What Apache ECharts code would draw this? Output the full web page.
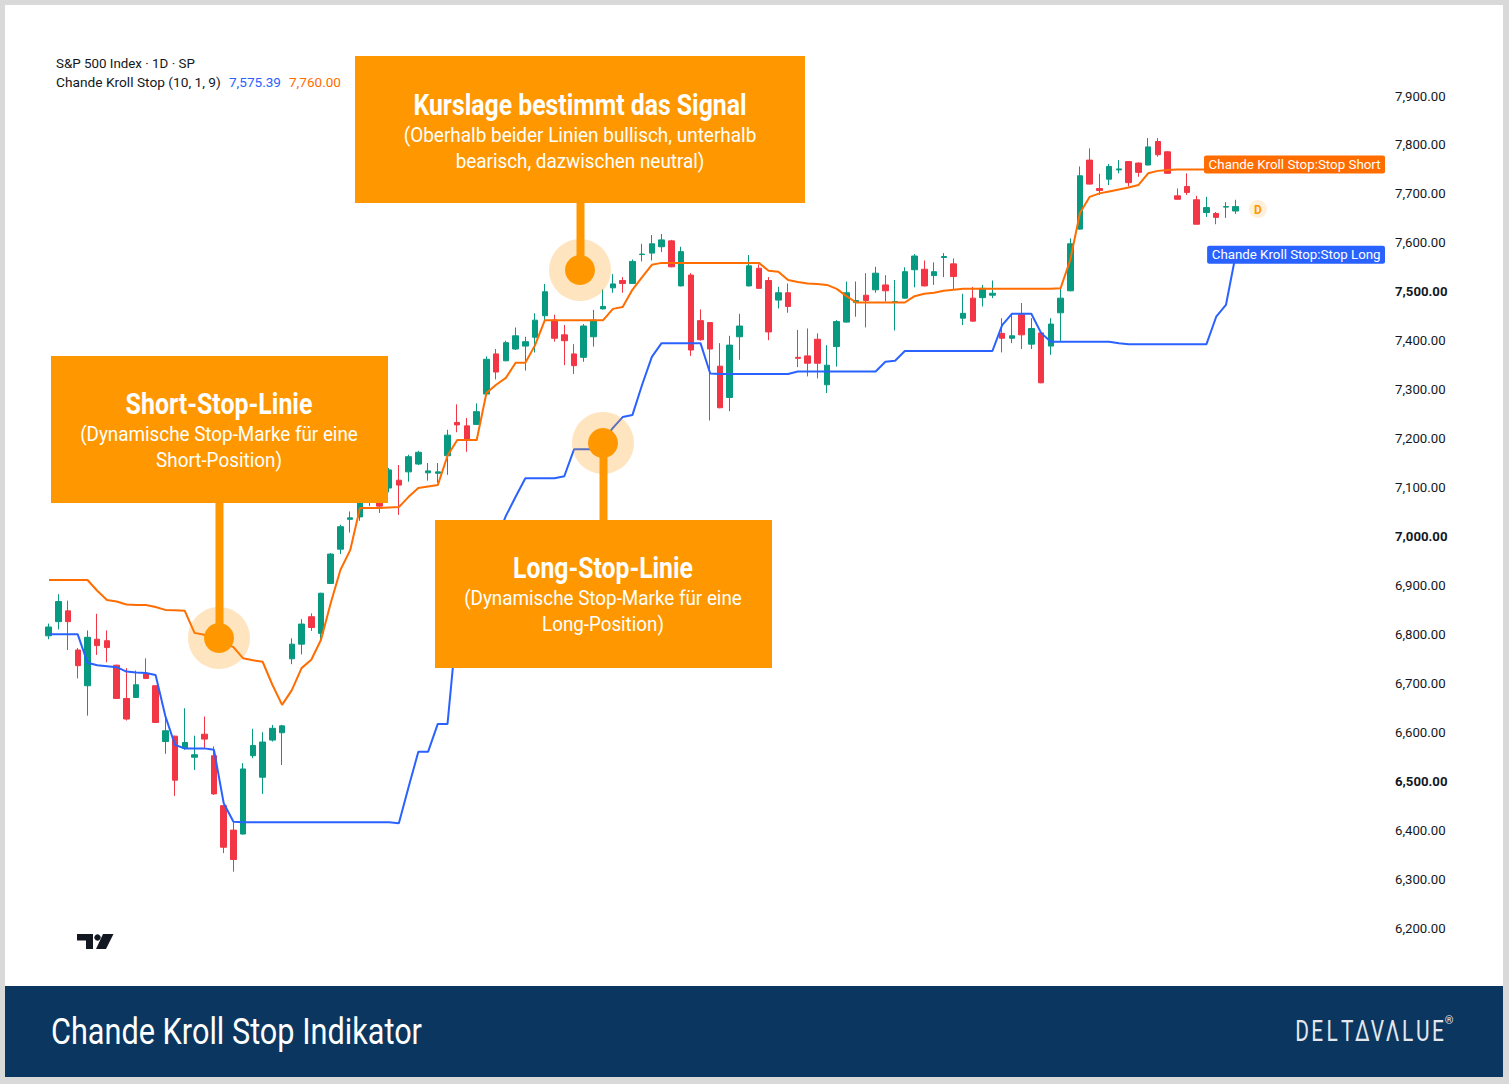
<!DOCTYPE html>
<html lang="de">
<head>
<meta charset="utf-8">
<title>Chande Kroll Stop Indikator</title>
<script src="https://cdn.jsdelivr.net/npm/echarts@6/dist/echarts.min.js"></script>
<style>
html,body{margin:0;padding:0;background:#d9d9d9;overflow:hidden;}
#chart{width:1509px;height:1084px;}
</style>
</head>
<body>
<div id="chart"></div>
<script>
// ---- daily bars (first bar is the partially visible one at the left edge) ----
const firstIndex = -1;
const open = [6797,6826,6848,6768,6695,6790,6787,6737,6669,6671,
6719,6695,6581,6592,6567,6549,6596,6552,6450,6400,
6392,6552,6508,6584,6599,6750,6780,6836,6802,6904,
6974,7035,7040,7070,7085,7099,7115,7132,7148,7130,
7129,7165,7233,7226,7229,7291,7373,7359,7383,7389,
7407,7451,7442,7412,7373,7366,7408,7465,7508,7523,
7517,7576,7579,7592,7604,7512,7534,7441,7437,7348,
7284,7408,7512,7548,7523,7483,7498,7366,7369,7403,
7310,7388,7438,7478,7493,7504,7514,7478,7487,7545,
7546,7533,7570,7557,7446,7487,7488,7493,7415,7405,
7453,7393,7416,7389,7457,7502,7628,7769,7711,7730,
7749,7766,7763,7759,7807,7786,7696,7715,7688,7662,
7660,7673,7665];
const close = [6815,6867,6826,6736,6794,6777,6773,6669,6627,6697,
6710,6620,6603,6502,6579,6554,6586,6474,6365,6340,
6525,6573,6580,6608,6613,6780,6821,6814,6884,6964,
7020,7038,7072,7090,7062,7136,7105,7163,7172,7134,
7132,7207,7228,7197,7255,7362,7336,7396,7410,7398,
7442,7500,7405,7400,7349,7430,7442,7470,7516,7517,
7562,7577,7598,7606,7551,7582,7381,7402,7383,7263,
7391,7430,7553,7507,7418,7498,7470,7364,7354,7354,
7350,7439,7498,7482,7482,7538,7502,7480,7541,7573,
7512,7541,7572,7531,7456,7440,7507,7497,7405,7410,
7412,7425,7314,7434,7487,7598,7737,7720,7707,7756,
7751,7723,7744,7796,7780,7742,7689,7703,7638,7672,
7652,7674,7674];
const low = [6790,6810,6768,6710,6634,6758,6743,6668,6624,6670,
6709,6619,6556,6470,6564,6523,6566,6472,6353,6315,
6391,6547,6474,6581,6533,6739,6759,6807,6789,6903,
6964,7008,7032,7062,7048,7090,7044,7112,7146,7114,
7110,7126,7213,7173,7228,7290,7321,7358,7381,7339,
7376,7442,7398,7350,7332,7357,7388,7464,7498,7498,
7516,7562,7564,7581,7550,7511,7369,7400,7237,7262,
7256,7361,7511,7506,7401,7466,7457,7346,7327,7323,
7293,7347,7437,7449,7427,7498,7480,7421,7486,7509,
7511,7514,7530,7504,7432,7439,7470,7487,7376,7395,
7383,7383,7313,7371,7398,7501,7627,7719,7698,7718,
7742,7715,7735,7758,7776,7741,7688,7698,7637,7653,
7638,7651,7659];
const high = [6822,6882,6869,6772,6808,6842,6808,6738,6731,6726,
6751,6696,6632,6593,6649,6593,6632,6571,6451,6416,
6537,6607,6600,6615,6615,6792,6831,6843,6885,6966,
7024,7051,7082,7100,7095,7140,7146,7167,7175,7150,
7150,7218,7270,7242,7272,7368,7383,7400,7427,7408,
7456,7516,7453,7432,7393,7434,7463,7505,7536,7530,
7566,7598,7616,7618,7606,7592,7538,7464,7438,7395,
7410,7455,7575,7556,7530,7510,7517,7422,7425,7415,
7391,7442,7521,7521,7538,7551,7534,7524,7550,7577,
7564,7560,7579,7568,7496,7510,7514,7523,7446,7456,
7477,7446,7417,7446,7507,7609,7756,7793,7741,7761,
7769,7767,7764,7814,7814,7787,7711,7742,7696,7694,
7663,7683,7688];
// ---- Chande Kroll Stop lines ----
const stopShort = [6911,6911,6911,6911,6911,6889,6870,6867,6861,6860,
6860,6856,6850,6849,6848,6803,6799,6791,6782,6774,
6751,6747,6744,6697,6656,6686,6731,6748,6789,6864,
6932,6972,7058,7058,7058,7059,7060,7081,7099,7102,
7105,7165,7197,7197,7197,7293,7310,7324,7355,7355,
7391,7442,7442,7442,7442,7442,7442,7442,7465,7469,
7504,7530,7555,7559,7559,7559,7559,7559,7559,7559,
7559,7559,7559,7559,7543,7541,7524,7520,7517,7516,
7514,7506,7491,7478,7478,7478,7478,7478,7478,7491,
7496,7498,7502,7504,7506,7506,7506,7506,7506,7506,
7506,7506,7506,7506,7507,7565,7661,7694,7701,7705,
7709,7713,7718,7742,7747,7749,7750,7750,7750,7750,
7750,7750,7752];
const stopLong = [6800,6800,6800,6800,6742,6737,6735,6733,6724,6722,
6721,6717,6633,6574,6567,6567,6567,6564,6455,6417,
6416,6416,6416,6416,6416,6416,6416,6416,6416,6416,
6416,6416,6416,6416,6416,6416,6414,6488,6560,6560,
6617,6617,6827,6870,6911,6952,6993,7042,7081,7119,
7119,7119,7119,7123,7178,7178,7178,7197,7222,7244,
7248,7310,7367,7395,7395,7395,7395,7395,7333,7332,
7332,7332,7332,7332,7332,7332,7332,7337,7337,7337,
7337,7337,7337,7337,7337,7337,7357,7359,7379,7379,
7379,7379,7379,7379,7379,7379,7379,7379,7432,7455,
7455,7455,7416,7398,7398,7398,7398,7398,7398,7398,
7395,7393,7393,7393,7393,7393,7393,7393,7393,7393,
7449,7473,7575];
// ---- axis & texts ----
const yMin = 6200, yMax = 7900, yStep = 100;
const legendTitle = 'S&P 500 Index · 1D · SP';
const indicatorName = 'Chande Kroll Stop (10, 1, 9)';
const lastLong = 7575.39, lastShort = 7760.00;
const tagShort = 'Chande Kroll Stop:Stop Short';
const tagLong = 'Chande Kroll Stop:Stop Long';
const footerTitle = 'Chande Kroll Stop Indikator';
const brandLetters = ['D','E','L','T','Δ','V','Λ','L','U','E'];

const UP = '#089981', DOWN = '#f23645', ORANGE = '#ff6d00', BLUE = '#2962ff', BOX = '#ff9800', INK = '#131722';

const chart = echarts.init(document.getElementById('chart'), null, {renderer: 'svg'});

const candleData = open.map((o, i) => [firstIndex + i, o, close[i], low[i], high[i]]);
const shortData = stopShort.map((v, i) => [firstIndex + i, v]);
const longData = stopLong.map((v, i) => [firstIndex + i, v]);

const fmt = v => v.toLocaleString('en-US', {minimumFractionDigits: 2, maximumFractionDigits: 2});

chart.setOption({
  animation: false,
  backgroundColor: '#d9d9d9',
  grid: {left: 50, right: 123, top: 96, bottom: 156, containLabel: false, outerBoundsMode: 'none'},
  xAxis: {type: 'value', min: -0.853, max: 136.45, show: false, splitLine: {show: false}},
  yAxis: {
    type: 'value', position: 'right', min: yMin, max: yMax, interval: yStep,
    axisLine: {show: false}, axisTick: {show: false}, splitLine: {show: false},
    axisLabel: {
      margin: 9, color: INK, fontFamily: 'Roboto', fontSize: 13.2,
      formatter: v => (v % 500 === 0 ? '{b|' + fmt(v) + '}' : fmt(v)),
      rich: {b: {fontWeight: 'bold', color: INK, fontFamily: 'Roboto', fontSize: 13.2}}
    }
  },
  series: [
    {
      type: 'candlestick', data: candleData, barWidth: 6, clip: true, z: 3,
      itemStyle: {color: UP, color0: DOWN, borderColor: UP, borderColor0: DOWN, borderWidth: 1},
      emphasis: {disabled: true}
    },
    {type: 'line', data: shortData, symbol: 'none', clip: true, z: 4, lineStyle: {color: ORANGE, width: 2}, emphasis: {disabled: true}},
    {type: 'line', data: longData, symbol: 'none', clip: true, z: 4, lineStyle: {color: BLUE, width: 2}, emphasis: {disabled: true}}
  ]
});

// ---- annotations ----
const meas = document.createElement('canvas').getContext('2d');
function fitScale(text, font, w) { meas.font = font; return w / meas.measureText(text).width; }
function txt(text, x, y, font, fill, opts) {
  opts = opts || {};
  const align = opts.align || 'center';
  const el = {
    type: 'text', x: x, y: y, z: opts.z || 60,
    style: {text: text, font: font, fill: fill, align: align, verticalAlign: 'middle', textAlign: align, textVerticalAlign: 'middle'}
  };
  if (opts.w) el.scaleX = fitScale(text, font, opts.w);
  if (opts.bg) { el.style.backgroundColor = opts.bg; el.style.padding = opts.pad; el.style.borderRadius = 2; }
  return el;
}
function rect(x, y, w, h, fill, z) { return {type: 'rect', z: z, shape: {x: x, y: y, width: w, height: h}, style: {fill: fill}}; }
function circle(cx, cy, r, fill, z) { return {type: 'circle', z: z, shape: {cx: cx, cy: cy, r: r}, style: {fill: fill}}; }

const TITLE = 'bold 29px Roboto', SUB = '20.5px Roboto', WHITE = '#ffffff', LEG = '12.5px Roboto';
const yShort = chart.convertToPixel({yAxisIndex: 0}, lastShort);
const yLong = chart.convertToPixel({yAxisIndex: 0}, lastLong);

const g = [
  rect(5, 5, 1498, 981, '#ffffff', -5),
  rect(5, 986, 1498, 91, '#0a365f', 1),
  // legend
  txt(legendTitle, 56, 64, LEG, INK, {align: 'left', w: 139}),
  txt(indicatorName, 56, 83, LEG, INK, {align: 'left', w: 165}),
  txt(fmt(lastLong), 229, 83, LEG, BLUE, {align: 'left', w: 52}),
  txt(fmt(lastShort), 289, 83, LEG, ORANGE, {align: 'left', w: 52}),
  // price tags
  txt(tagShort, 1385, yShort, '12px Roboto', WHITE, {align: 'right', bg: ORANGE, pad: [3, 4, 3, 4], z: 20, w: 172}),
  txt(tagLong, 1385, yLong, '12px Roboto', WHITE, {align: 'right', bg: BLUE, pad: [3, 4, 3, 4], z: 20, w: 169}),
  // "D" marker
  circle(1258, 209, 9, '#fff0db', 20),
  txt('D', 1258, 210, 'bold 12px Roboto', BOX, {z: 21}),
  // TradingView logo
  {type: 'polygon', z: 5, shape: {points: [[77, 934], [93, 934], [93, 949], [86, 949], [86, 940.5], [77, 940.5]]}, style: {fill: INK}},
  circle(97.5, 937.5, 3.2, INK, 5),
  {type: 'polygon', z: 5, shape: {points: [[103, 934], [113.5, 934], [106, 949], [96, 949]]}, style: {fill: INK}},
  // callout boxes
  rect(355, 56, 450, 147, BOX, 50),
  rect(51, 356, 337, 147, BOX, 50),
  rect(435, 520, 337, 148, BOX, 50),
  // stems
  rect(576.5, 203, 8, 67, BOX, 50),
  rect(215.5, 503, 8, 135, BOX, 50),
  rect(599.5, 443, 8, 77, BOX, 50),
  // halos + dots
  circle(580, 270, 31, 'rgba(255,152,0,0.25)', 49),
  circle(580, 270, 15, BOX, 51),
  circle(219, 638, 31, 'rgba(255,152,0,0.25)', 49),
  circle(219, 638, 15, BOX, 51),
  circle(603, 443, 31, 'rgba(255,152,0,0.25)', 49),
  circle(603, 443, 15, BOX, 51),
  // box texts
  txt('Kurslage bestimmt das Signal', 580, 105, TITLE, WHITE, {w: 333}),
  txt('(Oberhalb beider Linien bullisch, unterhalb', 580, 135, SUB, WHITE, {w: 353}),
  txt('bearisch, dazwischen neutral)', 580, 161, SUB, WHITE, {w: 249}),
  txt('Short-Stop-Linie', 219, 404, TITLE, WHITE, {w: 187}),
  txt('(Dynamische Stop-Marke für eine', 219, 434, SUB, WHITE, {w: 278}),
  txt('Short-Position)', 219, 460, SUB, WHITE, {w: 126}),
  txt('Long-Stop-Linie', 603, 568, TITLE, WHITE, {w: 180}),
  txt('(Dynamische Stop-Marke für eine', 603, 598, SUB, WHITE, {w: 278}),
  txt('Long-Position)', 603, 624, SUB, WHITE, {w: 122}),
  // footer
  txt(footerTitle, 51, 1031, '37px Roboto', WHITE, {align: 'left', w: 371, z: 10}),
  txt('®', 1449, 1020, '11px Roboto', '#e4e8ee', {z: 10})
];
brandLetters.forEach((ch, i) => {
  g.push({type: 'text', x: 1302 + i * 15.1, y: 1031, z: 10, scaleX: 0.72,
    style: {text: ch, font: '29px Roboto', fill: '#e4e8ee', align: 'center', verticalAlign: 'middle', textAlign: 'center', textVerticalAlign: 'middle'}});
});

chart.setOption({graphic: {elements: g}});
</script>
</body>
</html>
